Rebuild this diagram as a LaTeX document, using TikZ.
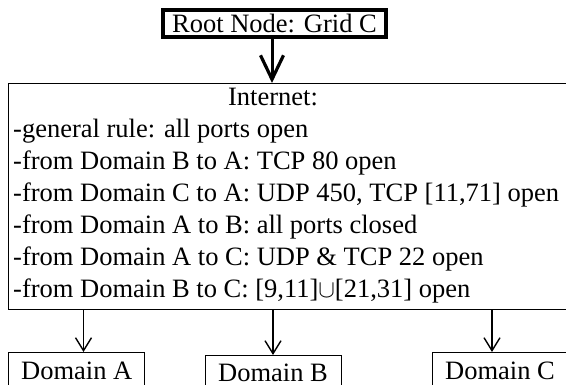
\documentclass[tikz,border=0pt]{standalone}
\usepackage{fontspec}
\setmainfont{Liberation Serif}
\usetikzlibrary{arrows.meta}
\begin{document}
\begin{tikzpicture}[x=1pt,y=1pt,
  every node/.style={font=\fontsize{26.5}{32}\selectfont, inner sep=0pt},
  txtline/.style={anchor=base west},
  rootbox/.style={draw, line width=4pt, minimum width=223pt, minimum height=27pt},
  panel/.style={draw, line width=1.1pt, anchor=north west},
  bigarrow/.style={line width=3pt, -{Straight Barb[length=24pt,width=23pt,line width=3.2pt]}},
  smallarrow/.style={line width=1.4pt, -{Straight Barb[length=13pt,width=16pt,line width=1.4pt]}}
]
\useasboundingbox (0,0) rectangle (566,-385);
% root
\node[rootbox] (root) at (274.5,-23.5) {Root Node: Grid C};
% internet panel
\node[panel, minimum width=562pt, minimum height=226pt] (inet) at (8,-83) {};
\node[anchor=base] (t0) at (273,-106) {Internet:};
\node[txtline] (t1) at (13,-138) {-general rule: all ports open};
\node[txtline] (t2) at (13,-170) {-from Domain B to A: TCP 80 open};
\node[txtline] (t3) at (13,-202) {-from Domain C to A: UDP 450, TCP [11,71] open};
\node[txtline] (t4) at (13,-234) {-from Domain A to B: all ports closed};
\node[txtline] (t5) at (13,-266) {-from Domain A to C: UDP \& TCP 22 open};
\node[txtline] (t6) at (13,-298) {-from Domain B to C: [9,11]$\cup$[21,31] open};
% domains
\node[panel, minimum width=136pt, minimum height=45pt] (dA) at (8,-352) {};
\node[panel, minimum width=136pt, minimum height=45pt] (dB) at (205,-355) {};
\node[panel, minimum width=140pt, minimum height=45pt] (dC) at (432,-352) {};
\node[txtline] (lA) at (21,-380) {Domain A};
\node[txtline] (lB) at (218,-381.5) {Domain B};
\node[txtline] (lC) at (445,-380) {Domain C};
% arrow endpoints
\coordinate (pR) at (272,-83);
\coordinate (pA) at (83.5,-352);
\coordinate (pB) at (273,-355);
\coordinate (pC) at (492,-352);
\draw[bigarrow] (root.south -| pR) -- (pR);
\draw[smallarrow] (inet.south -| pA) -- (pA);
\draw[smallarrow] (inet.south -| pB) -- (pB);
\draw[smallarrow] (inet.south -| pC) -- (pC);
\end{tikzpicture}
\end{document}
